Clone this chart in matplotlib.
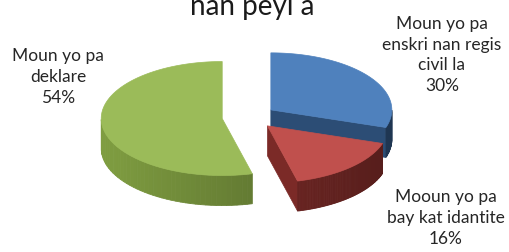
import matplotlib.pyplot as plt
import numpy as np
from matplotlib.patches import Polygon

plt.rcParams['font.family'] = ['Lato', 'DejaVu Sans']

title = "nan peyi a"
labels = ["Moun yo pa\nenskri nan regis\ncivil la",
          "Mooun yo pa\nbay kat idantite",
          "Moun yo pa\ndeklare"]
values = [30, 16, 54]
top_colors = ["#4f81bd", "#c0504d", "#9bbb59"]
side_colors = ["#2c4d75", "#7b2a27", "#76923c"]
label_pos = [(442, 55), (446, 218), (58, 77)]

# pie geometry in pixels
CX, CY = 249, 117
RX, RY = 121, 57
DEPTH = 30
EXPLODE = 27


def proj(cx, cy, ang, r=1.0):
    a = np.radians(ang)
    return cx + RX * r * np.cos(a), cy - RY * r * np.sin(a)


def shade(color, f):
    c = np.array(plt.matplotlib.colors.to_rgb(color))
    return tuple(np.clip(c * f, 0, 1))


def main():
    fig = plt.figure(figsize=(5.1, 2.52), dpi=100)
    ax = fig.add_axes([0, 0, 1, 1])
    ax.set_xlim(0, 510)
    ax.set_ylim(252, 0)
    ax.axis('off')

    total = sum(values)
    # clockwise from 12 o'clock
    starts = []
    a = 90.0
    for v in values:
        span = 360.0 * v / total
        starts.append((a - span, a))
        a -= span

    for i in range(len(values)):
        a0, a1 = starts[i]
        mid = np.radians((a0 + a1) / 2)
        cx = CX + EXPLODE * np.cos(mid)
        cy = CY - EXPLODE * np.sin(mid) * 0.45
        angs = np.linspace(a0, a1, 80)
        px, py = proj(cx, cy, angs)

        # cut faces facing the viewer
        for edge, normal in ((a0, a0 - 90), (a1, a1 + 90)):
            if np.sin(np.radians(normal)) < -1e-6:
                ex, ey = proj(cx, cy, edge)
                quad = [(cx, cy), (ex, ey), (ex, ey + DEPTH), (cx, cy + DEPTH)]
                ax.add_patch(Polygon(quad, closed=True, fc=side_colors[i],
                                     ec=side_colors[i], lw=0.5))

        # outer wall, visible where sin < 0
        for k in range(len(angs) - 1):
            am = (angs[k] + angs[k + 1]) / 2
            if np.sin(np.radians(am)) < 0:
                f = 1.08 - 0.38 * (np.cos(np.radians(am)) + 1) / 2
                col = shade(side_colors[i], f)
                quad = [(px[k], py[k]), (px[k + 1], py[k + 1]),
                        (px[k + 1], py[k + 1] + DEPTH), (px[k], py[k] + DEPTH)]
                ax.add_patch(Polygon(quad, closed=True, fc=col, ec=col, lw=0.6))

        # top face
        pts = [(cx, cy)] + list(zip(px, py))
        ax.add_patch(Polygon(pts, closed=True, fc=top_colors[i],
                             ec=top_colors[i], lw=0.5))

    for (x, y), lab, v in zip(label_pos, labels, values):
        ax.text(x, y, f"{lab}\n{v}%", ha='center', va='center', fontsize=12.5,
                color='#262626', linespacing=1.38)

    ax.text(252, 15, title, ha='center', va='baseline', fontsize=20, color='#1a1a1a')

    fig.savefig("out.png", dpi=100)


if __name__ == "__main__":
    main()
